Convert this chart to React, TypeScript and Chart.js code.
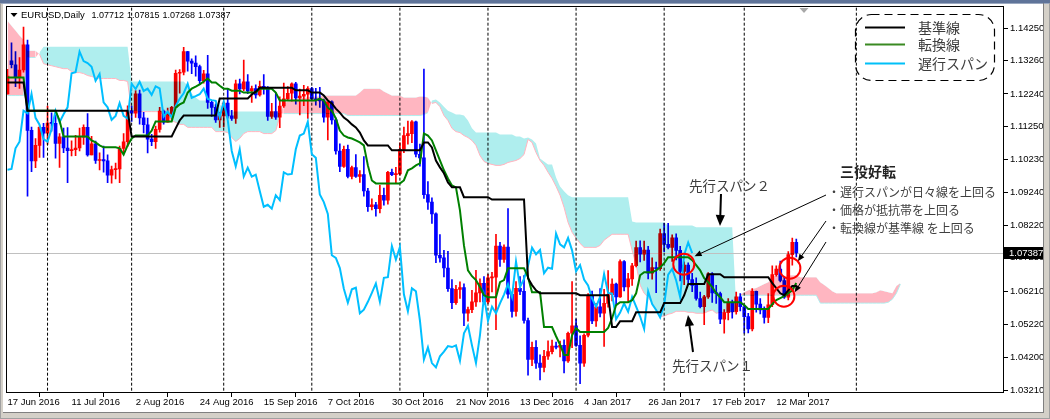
import { useEffect, useRef } from 'react';
import { Chart, registerables } from 'chart.js';

Chart.register(...registerables);

// ---------------- data (EURUSD Daily, 17 Jun 2016 .. 17 Mar 2017) ----------------
const opens = [
  1.1224,1.1325,1.1313,1.1274,1.1297,1.1374,1.1113,1.1020,1.1067,1.1122,
  1.1104,1.1135,1.1134,1.1073,1.1093,1.1059,1.1051,1.1054,1.1059,1.1092,
  1.1122,1.1038,1.1072,1.1021,1.1024,1.1020,1.0976,1.0993,1.0995,1.1058,
  1.1078,1.1173,1.1165,1.1224,1.1151,1.1130,1.1086,1.1078,1.1116,1.1172,
  1.1138,1.1162,1.1183,1.1287,1.1290,1.1353,1.1324,1.1318,1.1307,1.1264,
  1.1285,1.1198,1.1183,1.1145,1.1157,1.1196,1.1157,1.1149,1.1255,1.1239,
  1.1261,1.1233,1.1240,1.1221,1.1247,1.1241,1.1155,1.1170,1.1153,1.1187,
  1.1209,1.1226,1.1255,1.1212,1.1217,1.1223,1.1240,1.1209,1.1205,1.1203,
  1.1153,1.1200,1.1145,1.1050,1.1003,1.1055,1.0972,1.0999,1.0972,1.0978,
  1.0928,1.0880,1.0886,1.0874,1.0915,1.0900,1.0985,1.0978,1.0980,1.1055,
  1.1097,1.1103,1.1139,1.1040,1.1029,1.0917,1.0894,1.0858,1.0732,1.0724,
  1.0693,1.0630,1.0587,1.0628,1.0633,1.0555,1.0566,1.0590,1.0617,1.0646,
  1.0590,1.0663,1.0665,1.0760,1.0719,1.0757,1.0613,1.0561,1.0631,1.0622,
  1.0533,1.0414,1.0451,1.0403,1.0390,1.0424,1.0438,1.0455,1.0452,1.0457,
  1.0410,1.0494,1.0517,1.0457,1.0403,1.0488,1.0607,1.0532,1.0575,1.0555,
  1.0585,1.0612,1.0644,1.0605,1.0713,1.0635,1.0660,1.0700,1.0755,1.0735,
  1.0748,1.0677,1.0694,1.0691,1.0798,1.0765,1.0756,1.0785,1.0747,1.0683,
  1.0702,1.0658,1.0640,1.0600,1.0575,1.0605,1.0675,1.0617,1.0615,1.0537,
  1.0557,1.0585,1.0560,1.0605,1.0575,1.0545,1.0507,1.0622,1.0583,1.0565,
  1.0542,1.0581,1.0673,1.0690,1.0655,1.0604,1.0734,1.07712,
];
const highs = [
  1.1299,1.1380,1.1353,1.1335,1.1428,1.1388,1.1123,1.1088,1.1126,1.1134,
  1.1187,1.1166,1.1160,1.1103,1.1120,1.1121,1.1081,1.1098,1.1120,1.1130,
  1.1164,1.1095,1.1080,1.1044,1.1065,1.1038,1.1004,1.1013,1.1065,1.1103,
  1.1188,1.1187,1.1234,1.1236,1.1168,1.1150,1.1101,1.1126,1.1183,1.1175,
  1.1181,1.1186,1.1297,1.1298,1.1366,1.1354,1.1331,1.1340,1.1312,1.1296,
  1.1342,1.1201,1.1194,1.1168,1.1200,1.1240,1.1174,1.1266,1.1269,1.1327,
  1.1283,1.1248,1.1252,1.1263,1.1283,1.1246,1.1195,1.1227,1.1215,1.1257,
  1.1246,1.1258,1.1259,1.1239,1.1250,1.1246,1.1244,1.1241,1.1244,1.1208,
  1.1198,1.1203,1.1150,1.1072,1.1065,1.1068,1.1004,1.1039,1.0990,1.1033,
  1.0936,1.0904,1.0893,1.0945,1.0937,1.0988,1.0995,1.1000,1.1075,1.1123,
  1.1141,1.1143,1.1141,1.1071,1.1300,1.0957,1.0907,1.0861,1.0795,1.0747,
  1.0744,1.0658,1.0640,1.0651,1.0645,1.0574,1.0625,1.0686,1.0660,1.0667,
  1.0674,1.0680,1.0796,1.0771,1.0764,1.0874,1.0617,1.0652,1.0667,1.0670,
  1.0540,1.0467,1.0472,1.0428,1.0442,1.0471,1.0473,1.0467,1.0470,1.0474,
  1.0498,1.0652,1.0537,1.0486,1.0492,1.0615,1.0623,1.0585,1.0630,1.0628,
  1.0685,1.0660,1.0647,1.0718,1.0716,1.0677,1.0707,1.0775,1.0776,1.0775,
  1.0759,1.0724,1.0711,1.0812,1.0829,1.0829,1.0794,1.0797,1.0759,1.0712,
  1.0709,1.0677,1.0663,1.0620,1.0610,1.0679,1.0679,1.0640,1.0620,1.0566,
  1.0600,1.0595,1.0620,1.0615,1.0580,1.0555,1.0630,1.0623,1.0600,1.0575,
  1.0615,1.0700,1.0700,1.0714,1.0666,1.0743,1.0784,1.07815,
];
const lows = [
  1.1223,1.1303,1.1246,1.1241,1.1290,1.0912,1.0987,1.0999,1.1030,1.1030,
  1.1070,1.1110,1.1028,1.1000,1.1045,1.0953,1.1035,1.1036,1.1050,1.1070,
  1.1034,1.1038,1.1012,1.0992,1.0985,1.0953,1.0952,1.0965,1.0953,1.1045,
  1.1064,1.1140,1.1152,1.1132,1.1105,1.1044,1.1066,1.1058,1.1107,1.1132,
  1.1138,1.1147,1.1183,1.1226,1.1282,1.1293,1.1286,1.1278,1.1253,1.1257,
  1.1180,1.1155,1.1137,1.1122,1.1123,1.1150,1.1143,1.1134,1.1224,1.1234,
  1.1225,1.1198,1.1211,1.1217,1.1223,1.1143,1.1149,1.1146,1.1121,1.1183,
  1.1206,1.1202,1.1193,1.1160,1.1188,1.1149,1.1203,1.1190,1.1183,1.1138,
  1.1084,1.1132,1.1040,1.0987,1.1000,1.0968,1.0965,1.0969,1.0954,1.0912,
  1.0866,1.0870,1.0851,1.0861,1.0885,1.0888,1.0975,1.0951,1.0976,1.1045,
  1.1071,1.1075,1.1032,1.1004,1.0905,1.0872,1.0829,1.0709,1.0711,1.0666,
  1.0622,1.0569,1.0582,1.0600,1.0517,1.0531,1.0557,1.0576,1.0590,1.0583,
  1.0585,1.0620,1.0505,1.0698,1.0710,1.0601,1.0543,1.0546,1.0612,1.0525,
  1.0366,1.0395,1.0387,1.0352,1.0376,1.0414,1.0431,1.0446,1.0422,1.0373,
  1.0405,1.0450,1.0454,1.0340,1.0393,1.0483,1.0523,1.0515,1.0544,1.0454,
  1.0574,1.0593,1.0580,1.0603,1.0623,1.0588,1.0640,1.0696,1.0712,1.0716,
  1.0660,1.0659,1.0618,1.0686,1.0743,1.0751,1.0713,1.0718,1.0654,1.0642,
  1.0648,1.0621,1.0595,1.0571,1.0520,1.0600,1.0588,1.0585,1.0523,1.0494,
  1.0535,1.0540,1.0552,1.0562,1.0494,1.0495,1.0501,1.0558,1.0553,1.0525,
  1.0526,1.0575,1.0668,1.0651,1.0600,1.0596,1.0702,1.07268,
];
const closes = [
  1.1278,1.1313,1.1274,1.1297,1.1374,1.1113,1.1020,1.1067,1.1122,1.1104,
  1.1135,1.1134,1.1073,1.1093,1.1059,1.1051,1.1054,1.1059,1.1092,1.1122,
  1.1038,1.1072,1.1021,1.1024,1.1020,1.0976,1.0993,1.0995,1.1058,1.1078,
  1.1173,1.1165,1.1224,1.1151,1.1130,1.1086,1.1078,1.1116,1.1172,1.1138,
  1.1162,1.1183,1.1287,1.1290,1.1353,1.1324,1.1318,1.1307,1.1264,1.1285,
  1.1198,1.1183,1.1145,1.1157,1.1196,1.1157,1.1149,1.1255,1.1239,1.1261,
  1.1233,1.1240,1.1221,1.1247,1.1241,1.1155,1.1170,1.1153,1.1187,1.1209,
  1.1226,1.1255,1.1212,1.1217,1.1223,1.1240,1.1209,1.1205,1.1203,1.1153,
  1.1200,1.1145,1.1050,1.1003,1.1055,1.0972,1.0999,1.0972,1.0978,1.0928,
  1.0880,1.0886,1.0874,1.0915,1.0900,1.0985,1.0978,1.0980,1.1055,1.1097,
  1.1103,1.1139,1.1040,1.1029,1.0917,1.0894,1.0858,1.0732,1.0724,1.0693,
  1.0630,1.0587,1.0628,1.0633,1.0555,1.0566,1.0590,1.0617,1.0646,1.0590,
  1.0663,1.0665,1.0760,1.0719,1.0757,1.0613,1.0561,1.0631,1.0622,1.0533,
  1.0414,1.0451,1.0403,1.0390,1.0424,1.0438,1.0455,1.0452,1.0457,1.0410,
  1.0494,1.0517,1.0457,1.0403,1.0488,1.0607,1.0532,1.0575,1.0555,1.0585,
  1.0612,1.0644,1.0605,1.0713,1.0635,1.0660,1.0700,1.0755,1.0735,1.0748,
  1.0677,1.0694,1.0691,1.0798,1.0765,1.0756,1.0785,1.0747,1.0683,1.0702,
  1.0658,1.0640,1.0600,1.0575,1.0605,1.0675,1.0617,1.0615,1.0537,1.0557,
  1.0585,1.0560,1.0605,1.0575,1.0545,1.0507,1.0622,1.0583,1.0565,1.0542,
  1.0581,1.0673,1.0690,1.0655,1.0604,1.0734,1.0771,1.07387,
];
// 転換線 (Tenkan-sen)
const tenkan = [
  1.1274,1.1274,1.1274,1.1274,1.1274,1.1173,1.1173,1.1173,1.1173,1.1173,
  1.1173,1.1173,1.1173,1.1143,1.1094,1.1094,1.1094,1.1094,1.1094,1.1094,
  1.1094,1.1082,1.1076,1.1067,1.1061,1.1061,1.1061,1.1061,1.1058,1.1039,
  1.1067,1.1088,1.1097,1.1097,1.1097,1.1097,1.1112,1.1140,1.1140,1.1140,
  1.1140,1.1140,1.1182,1.1192,1.1198,1.1228,1.1240,1.1246,1.1253,1.1262,
  1.1271,1.1259,1.1259,1.1249,1.1240,1.1240,1.1234,1.1234,1.1234,1.1228,
  1.1228,1.1228,1.1228,1.1240,1.1240,1.1240,1.1240,1.1228,1.1204,1.1204,
  1.1204,1.1204,1.1204,1.1204,1.1204,1.1204,1.1204,1.1204,1.1210,1.1204,
  1.1182,1.1173,1.1149,1.1112,1.1097,1.1091,1.1088,1.1082,1.1076,1.1067,
  1.1006,1.0960,1.0951,1.0951,1.0951,1.0951,1.0951,1.0951,1.0951,1.0960,
  1.0991,1.0997,1.1006,1.1012,1.1103,1.1097,1.1082,1.1052,1.1021,1.0991,
  1.0966,1.0945,1.0939,1.0869,1.0762,1.0686,1.0668,1.0656,1.0635,1.0610,
  1.0604,1.0604,1.0604,1.0650,1.0656,1.0692,1.0692,1.0692,1.0692,1.0692,
  1.0665,1.0619,1.0619,1.0619,1.0513,1.0513,1.0513,1.0485,1.0459,1.0428,
  1.0428,1.0488,1.0510,1.0498,1.0498,1.0498,1.0498,1.0498,1.0498,1.0498,
  1.0510,1.0540,1.0580,1.0589,1.0589,1.0589,1.0595,1.0616,1.0671,1.0680,
  1.0680,1.0680,1.0686,1.0695,1.0708,1.0726,1.0726,1.0726,1.0726,1.0726,
  1.0726,1.0717,1.0702,1.0686,1.0662,1.0650,1.0635,1.0616,1.0604,1.0589,
  1.0589,1.0589,1.0589,1.0589,1.0580,1.0568,1.0568,1.0568,1.0568,1.0568,
  1.0568,1.0583,1.0595,1.0601,1.0607,1.0616,1.0625,1.0647,
];
// 基準線 (Kijun-sen)
const kijun = [
  1.1259,1.1259,1.1259,1.1259,1.1259,1.1173,1.1173,1.1173,1.1173,1.1173,
  1.1173,1.1173,1.1173,1.1173,1.1173,1.1173,1.1173,1.1173,1.1173,1.1173,
  1.1173,1.1173,1.1173,1.1173,1.1173,1.1173,1.1173,1.1173,1.1173,1.1173,
  1.1173,1.1094,1.1094,1.1094,1.1094,1.1094,1.1094,1.1094,1.1094,1.1094,
  1.1094,1.1094,1.1119,1.1143,1.1158,1.1158,1.1158,1.1158,1.1158,1.1158,
  1.1158,1.1158,1.1158,1.1210,1.1210,1.1210,1.1210,1.1210,1.1210,1.1210,
  1.1210,1.1222,1.1231,1.1243,1.1243,1.1243,1.1243,1.1243,1.1243,1.1243,
  1.1243,1.1243,1.1235,1.1235,1.1235,1.1235,1.1228,1.1228,1.1228,1.1219,
  1.1204,1.1195,1.1179,1.1167,1.1152,1.1143,1.1131,1.1122,1.1106,1.1082,
  1.1067,1.1067,1.1067,1.1067,1.1067,1.1067,1.1052,1.1052,1.1052,1.1052,
  1.1052,1.1052,1.1052,1.1052,1.1076,1.1076,1.1061,1.1021,1.1000,1.0982,
  1.0954,1.0939,1.0939,1.0939,1.0909,1.0909,1.0909,1.0909,1.0909,1.0909,
  1.0909,1.0902,1.0902,1.0902,1.0902,1.0902,1.0902,1.0902,1.0902,1.0902,
  1.0662,1.0641,1.0625,1.0616,1.0616,1.0616,1.0616,1.0616,1.0616,1.0616,
  1.0616,1.0616,1.0616,1.0610,1.0610,1.0610,1.0610,1.0610,1.0610,1.0610,
  1.0610,1.0513,1.0513,1.0531,1.0531,1.0531,1.0531,1.0558,1.0558,1.0558,
  1.0558,1.0558,1.0558,1.0558,1.0586,1.0586,1.0586,1.0586,1.0586,1.0610,
  1.0644,1.0644,1.0644,1.0644,1.0644,1.0674,1.0674,1.0674,1.0674,1.0665,
  1.0665,1.0665,1.0665,1.0665,1.0665,1.0665,1.0665,1.0665,1.0665,1.0665,
  1.0665,1.0647,1.0632,1.0616,1.0610,1.0625,1.0638,1.0638,
];
// 先行スパン1 (Senkou Span A), already shifted 26 bars forward
const spanA = [
  1.1447,1.1432,1.1417,1.1402,1.1389,1.1356,1.1356,1.1356,1.1345,1.1316,
  1.1313,1.1310,1.1307,1.1304,1.1301,1.1301,1.1292,1.1289,1.1289,1.1286,
  1.1280,1.1277,1.1274,1.1271,1.1271,1.1271,1.1271,1.1271,1.1265,1.1265,
  1.1262,1.1170,1.1170,1.1170,1.1170,1.1170,1.1170,1.1170,1.1170,1.1158,
  1.1158,1.1143,1.1137,1.1131,1.1131,1.1122,1.1122,1.1122,1.1122,1.1122,
  1.1122,1.1122,1.1109,1.1109,1.1109,1.1106,1.1091,1.1079,1.1088,1.1103,
  1.1109,1.1109,1.1109,1.1109,1.1103,1.1103,1.1103,1.1112,1.1155,1.1195,
  1.1201,1.1204,1.1210,1.1210,1.1213,1.1213,1.1216,1.1216,1.1216,1.1219,
  1.1219,1.1219,1.1219,1.1219,1.1219,1.1219,1.1219,1.1219,1.1228,1.1240,
  1.1240,1.1240,1.1240,1.1240,1.1231,1.1225,1.1219,1.1219,1.1219,1.1213,
  1.1213,1.1213,1.1213,1.1216,1.1216,1.1213,1.1195,1.1198,1.1185,1.1158,
  1.1143,1.1119,1.1109,1.1106,1.1097,1.1091,1.1082,1.1067,1.1036,1.1018,
  1.1012,1.1009,1.1006,1.1006,1.1009,1.1015,1.1018,1.1021,1.1027,1.1039,
  1.1085,1.1076,1.1045,1.1021,1.1006,1.0985,1.0966,1.0942,1.0915,1.0878,
  1.0832,1.0802,1.0784,1.0768,1.0756,1.0756,1.0756,1.0756,1.0762,1.0778,
  1.0787,1.0796,1.0796,1.0796,1.0796,1.0796,1.0747,1.0702,1.0641,1.0616,
  1.0604,1.0586,1.0565,1.0546,1.0546,1.0552,1.0555,1.0561,1.0561,1.0561,
  1.0558,1.0558,1.0555,1.0555,1.0555,1.0561,1.0565,1.0555,1.0558,1.0558,
  1.0558,1.0558,1.0560,1.0612,1.0619,1.0625,1.0629,1.0632,1.0638,1.0644,
  1.0650,1.0665,1.0671,1.0671,1.0665,1.0671,1.0671,1.0671,1.0665,1.0665,
  1.0665,1.0665,1.0665,1.0650,1.0641,1.0632,1.0622,1.0616,1.0616,1.0616,
  1.0616,1.0616,1.0616,1.0616,1.0616,1.0616,1.0616,1.0619,1.0625,1.0622,
  1.0619,1.0616,1.0638,1.0647,
];
// 先行スパン2 (Senkou Span B), already shifted 26 bars forward
const spanB = [
  1.1219,1.1219,1.1219,1.1219,1.1219,1.1335,1.1335,1.1335,1.1350,1.1368,
  1.1368,1.1368,1.1368,1.1368,1.1368,1.1368,1.1368,1.1368,1.1368,1.1368,
  1.1368,1.1368,1.1368,1.1368,1.1368,1.1368,1.1368,1.1368,1.1368,1.1368,
  1.1368,1.1262,1.1262,1.1262,1.1262,1.1262,1.1262,1.1262,1.1262,1.1262,
  1.1262,1.1262,1.1262,1.1262,1.1262,1.1249,1.1225,1.1213,1.1204,1.1204,
  1.1204,1.1192,1.1192,1.1192,1.1179,1.1179,1.1170,1.1170,1.1170,1.1170,
  1.1170,1.1170,1.1170,1.1170,1.1170,1.1170,1.1170,1.1170,1.1164,1.1164,
  1.1164,1.1164,1.1164,1.1164,1.1164,1.1164,1.1164,1.1164,1.1164,1.1164,
  1.1164,1.1164,1.1164,1.1164,1.1164,1.1158,1.1158,1.1158,1.1158,1.1158,
  1.1158,1.1158,1.1158,1.1158,1.1158,1.1158,1.1158,1.1158,1.1158,1.1158,
  1.1158,1.1158,1.1158,1.1158,1.1161,1.1167,1.1204,1.1207,1.1198,1.1185,
  1.1173,1.1167,1.1161,1.1161,1.1158,1.1143,1.1119,1.1106,1.1106,1.1106,
  1.1106,1.1106,1.1106,1.1100,1.1100,1.1100,1.1100,1.1094,1.1094,1.1088,
  1.1091,1.1085,1.1073,1.1027,1.1018,1.1009,1.1009,1.0969,1.0942,1.0927,
  1.0915,1.0909,1.0909,1.0909,1.0909,1.0909,1.0909,1.0909,1.0909,1.0909,
  1.0909,1.0909,1.0909,1.0909,1.0909,1.0909,1.0835,1.0832,1.0832,1.0832,
  1.0832,1.0832,1.0832,1.0832,1.0832,1.0823,1.0823,1.0823,1.0823,1.0823,
  1.0823,1.0823,1.0817,1.0817,1.0817,1.0817,1.0817,1.0817,1.0817,1.0817,
  1.0817,1.0817,1.0575,1.0608,1.0610,1.0610,1.0610,1.0610,1.0610,1.0610,
  1.0610,1.0610,1.0610,1.0610,1.0610,1.0610,1.0610,1.0610,1.0610,1.0610,
  1.0610,1.0610,1.0610,1.0586,1.0586,1.0586,1.0586,1.0586,1.0586,1.0586,
  1.0586,1.0586,1.0586,1.0586,1.0586,1.0586,1.0586,1.0586,1.0586,1.0586,
  1.0589,1.0598,1.0616,1.0644,
];
const CHIKOU_SHIFT = 26; // 遅行スパン = close plotted 26 bars back

const dateTickBars = [0, 16, 32, 48, 64, 80, 96, 112, 128, 144, 160, 176, 192];
const dateTickLabels = [
  '17 Jun 2016', '11 Jul 2016', '2 Aug 2016', '24 Aug 2016', '15 Sep 2016', '7 Oct 2016',
  '30 Oct 2016', '21 Nov 2016', '13 Dec 2016', '4 Jan 2017', '26 Jan 2017', '17 Feb 2017', '12 Mar 2017',
];
const priceTicks = [1.0321, 1.042, 1.0522, 1.0621, 1.0725, 1.0822, 1.0924, 1.1023, 1.1125, 1.1224, 1.1326, 1.1425];
const monthSeparatorBars = [10, 31, 54, 76, 98, 120, 142, 164, 184, 212];

const legendItems = [
  { label: '基準線', color: '#000000' },
  { label: '転換線', color: '#3a8a22' },
  { label: '遅行スパン', color: '#00c0f8' },
];
const bulletLines = ['遅行スパンが日々線を上回る', '価格が抵抗帯を上回る', '転換線が基準線 を上回る'];

// ---------------- styling ----------------
const PINK = '#ffb6c1';
const CYAN = '#afeeee';
const BULL = '#ff0000';
const BEAR = '#0000ff';
const X_MIN = -0.125;
const X_MAX = 248.875;
const Y_MIN = 1.031187;
const Y_MAX = 1.148691;
const LATIN = "'Liberation Sans', Arial, sans-serif";
const CJK = "'Noto Sans CJK JP', 'Noto Sans', sans-serif";

function drawArrow(ctx: CanvasRenderingContext2D, x1: number, y1: number, x2: number, y2: number, lw: number, head: number) {
  const a = Math.atan2(y2 - y1, x2 - x1);
  const c = Math.cos(a);
  const s = Math.sin(a);
  ctx.lineWidth = lw;
  ctx.beginPath();
  ctx.moveTo(x1, y1);
  ctx.lineTo(x2 - c * head * 0.7, y2 - s * head * 0.7);
  ctx.stroke();
  const w = head * 0.42;
  ctx.beginPath();
  ctx.moveTo(x2, y2);
  ctx.lineTo(x2 - head * c + w * s, y2 - head * s - w * c);
  ctx.lineTo(x2 - head * c - w * s, y2 - head * s + w * c);
  ctx.closePath();
  ctx.fill();
}

function roundRectPath(ctx: CanvasRenderingContext2D, x: number, y: number, w: number, h: number, r: number) {
  ctx.beginPath();
  ctx.moveTo(x + r, y);
  ctx.lineTo(x + w - r, y);
  ctx.arcTo(x + w, y, x + w, y + r, r);
  ctx.lineTo(x + w, y + h - r);
  ctx.arcTo(x + w, y + h, x + w - r, y + h, r);
  ctx.lineTo(x + r, y + h);
  ctx.arcTo(x, y + h, x, y + h - r, r);
  ctx.lineTo(x, y + r);
  ctx.arcTo(x, y, x + r, y, r);
  ctx.closePath();
}

const mt4Plugin = {
  id: 'mt4',
  beforeDraw(chart: any) {
    const { ctx, width, height } = chart;
    ctx.save();
    ctx.fillStyle = '#d4d0c8';
    ctx.fillRect(0, 0, width, height);
    ctx.fillStyle = '#ffffff';
    ctx.fillRect(3, 3, 1040, 409);
    ctx.fillStyle = '#5f7499';
    ctx.fillRect(0, 0, width, 3);
    ctx.fillStyle = '#9aa8c0';
    ctx.fillRect(0, 3, width, 1);
    ctx.fillStyle = '#a0a0a0';
    ctx.fillRect(0, 3, 1, height - 3);
    ctx.fillRect(width - 1, 3, 1, height - 3);
    ctx.fillRect(0, height - 1, width, 1);
    ctx.fillStyle = '#808080';
    ctx.fillRect(1043, 3, 1, 409);
    ctx.fillRect(3, 412, 1041, 1);
    ctx.restore();
  },
  beforeDatasetDraw(chart: any, args: any) {
    const ds = chart.data.datasets[args.index];
    const ctx = chart.ctx;
    if (ds.label === 'wicks') {
      const xs = chart.scales.x;
      const ys = chart.scales.y;
      const { top, bottom, left, right } = chart.chartArea;
      ctx.save();
      // bid line
      const by = Math.round(ys.getPixelForValue(closes[closes.length - 1])) + 0.5;
      ctx.strokeStyle = '#c0c0c0';
      ctx.lineWidth = 1;
      ctx.beginPath();
      ctx.moveTo(left, by);
      ctx.lineTo(right, by);
      ctx.stroke();
      // month separators
      ctx.strokeStyle = '#000000';
      ctx.setLineDash([3, 2]);
      for (const b of monthSeparatorBars) {
        const x = xs.getPixelForValue(b);
        ctx.beginPath();
        ctx.moveTo(x, top);
        ctx.lineTo(x, bottom);
        ctx.stroke();
      }
      ctx.restore();
    }
    if (ds.label === 'wicks' || ds.label === 'bodies') {
      ctx.globalCompositeOperation = 'multiply';
    }
  },
  afterDatasetDraw(chart: any) {
    chart.ctx.globalCompositeOperation = 'source-over';
  },
  afterDraw(chart: any) {
    const { ctx } = chart;
    const xs = chart.scales.x;
    const ys = chart.scales.y;
    ctx.save();
    // chart frame
    ctx.strokeStyle = '#000000';
    ctx.lineWidth = 1;
    ctx.strokeRect(6.5, 6.5, 997, 386);

    // current price label
    const last = closes.length - 1;
    const py = ys.getPixelForValue(closes[last]);
    ctx.fillStyle = '#000000';
    ctx.fillRect(1004, Math.round(py) - 6, 39, 12);
    ctx.fillStyle = '#ffffff';
    ctx.font = `9.5px ${LATIN}`;
    ctx.textBaseline = 'middle';
    ctx.textAlign = 'left';
    ctx.fillText(closes[last].toFixed(5), 1009, Math.round(py) + 0.5);

    // header
    ctx.fillStyle = '#000000';
    ctx.beginPath();
    ctx.moveTo(10.5, 13);
    ctx.lineTo(17.5, 13);
    ctx.lineTo(14, 17);
    ctx.closePath();
    ctx.fill();
    ctx.font = `9.5px ${LATIN}`;
    ctx.fillText('EURUSD,Daily', 21, 15.5);
    ctx.font = `9px ${LATIN}`;
    const ohlc = [opens[last], highs[last], lows[last], closes[last]];
    const hx = [91.5, 127, 162.5, 198];
    ohlc.forEach((v, i) => ctx.fillText(v.toFixed(5), hx[i], 15.5));

    // chart shift marker
    ctx.fillStyle = '#a8a8a8';
    ctx.beginPath();
    ctx.moveTo(799.5, 8);
    ctx.lineTo(808.5, 8);
    ctx.lineTo(804, 13);
    ctx.closePath();
    ctx.fill();

    // legend box
    ctx.strokeStyle = '#000000';
    ctx.lineWidth = 1.2;
    ctx.setLineDash([8, 5]);
    roundRectPath(ctx, 855.5, 14.5, 139, 66, 16);
    ctx.stroke();
    ctx.setLineDash([]);
    const ly = [27.5, 44.5, 63.5];
    legendItems.forEach((it, i) => {
      ctx.strokeStyle = it.color;
      ctx.lineWidth = 2;
      ctx.beginPath();
      ctx.moveTo(865, ly[i]);
      ctx.lineTo(905, ly[i]);
      ctx.stroke();
      ctx.fillStyle = '#3c3c3c';
      ctx.font = `14px ${CJK}`;
      ctx.fillText(it.label, 918, ly[i] + 0.5);
    });

    // labels for the cloud spans
    ctx.fillStyle = '#3c3c3c';
    ctx.font = `13.5px ${CJK}`;
    ctx.fillText('先行スパン２', 689, 186);
    ctx.fillText('先行スパン１', 672, 366);
    ctx.fillStyle = '#000000';
    ctx.strokeStyle = '#000000';
    drawArrow(ctx, 721, 194, 720, 226, 2, 11);
    drawArrow(ctx, 693, 352, 688, 315, 2, 11);

    // 三役好転 block
    ctx.fillStyle = '#222222';
    ctx.font = `bold 14px ${CJK}`;
    ctx.fillText('三役好転', 840, 172);
    ctx.fillStyle = '#404040';
    ctx.font = `12px ${CJK}`;
    const by = [192, 210, 228];
    bulletLines.forEach((t, i) => {
      ctx.fillText('・', 828, by[i]);
      ctx.fillText(t, 840, by[i]);
    });

    // pointer arrows (targets anchored in data coordinates)
    const targets = [
      [171.6, 1.0729],
      [197.4, 1.07137],
      [196.6, 1.06193],
    ];
    const starts = [[826, 195], [826, 221], [826, 242]];
    ctx.fillStyle = '#000000';
    ctx.strokeStyle = '#000000';
    targets.forEach((t, i) => {
      drawArrow(ctx, starts[i][0], starts[i][1], xs.getPixelForValue(t[0]), ys.getPixelForValue(t[1]), 1, 7);
    });

    // red circles
    const circles = [
      [168.9, 1.07046],
      [195.4, 1.06924],
      [193.9, 1.06072],
    ];
    ctx.strokeStyle = '#ff0000';
    ctx.lineWidth = 2;
    circles.forEach((c) => {
      ctx.beginPath();
      ctx.arc(xs.getPixelForValue(c[0]), ys.getPixelForValue(c[1]), 10.5, 0, Math.PI * 2);
      ctx.stroke();
    });
    ctx.restore();
  },
};

export default function App() {
  const ref = useRef<HTMLCanvasElement>(null);

  useEffect(() => {
    const canvas = ref.current;
    if (!canvas) return;
    const pts = (arr: number[]) => arr.map((v, i) => ({ x: i, y: v }));
    const candleColors = closes.map((c, i) => (c >= opens[i] ? BULL : BEAR));
    const wickData = lows.map((l, i) => ({ x: i, y: [l, highs[i]] }));
    const bodyData = opens.map((o, i) => ({ x: i, y: [Math.min(o, closes[i]), Math.max(o, closes[i])] }));
    const chikouData = closes.slice(CHIKOU_SHIFT).map((v, j) => ({ x: j, y: v }));

    const chart = new Chart(canvas, {
      type: 'bar',
      data: {
        datasets: [
          {
            type: 'line',
            label: 'spanA',
            data: pts(spanA),
            order: 9,
            borderWidth: 1,
            pointRadius: 0,
            fill: false,
            borderColor: 'rgba(0,0,0,0)',
            segment: {
              borderColor: (c: any) =>
                spanA[c.p0DataIndex] < spanB[c.p0DataIndex] && spanA[c.p1DataIndex] < spanB[c.p1DataIndex]
                  ? PINK
                  : 'rgba(0,0,0,0)',
            },
          } as any,
          {
            type: 'line',
            label: 'spanB',
            data: pts(spanB),
            order: 10,
            borderWidth: 1,
            pointRadius: 0,
            borderColor: 'rgba(0,0,0,0)',
            fill: { target: 0, above: CYAN, below: PINK },
            segment: {
              borderColor: (c: any) =>
                spanB[c.p0DataIndex] < spanA[c.p0DataIndex] && spanB[c.p1DataIndex] < spanA[c.p1DataIndex]
                  ? CYAN
                  : 'rgba(0,0,0,0)',
            },
          } as any,
          {
            type: 'bar',
            label: 'wicks',
            data: wickData,
            backgroundColor: candleColors,
            barThickness: 1,
            grouped: false,
            order: 7,
          } as any,
          {
            type: 'bar',
            label: 'bodies',
            data: bodyData,
            backgroundColor: candleColors,
            barThickness: 3,
            grouped: false,
            minBarLength: 1,
            order: 6,
          } as any,
          {
            type: 'line',
            label: 'chikou',
            data: chikouData,
            borderColor: '#00bfff',
            borderWidth: 2,
            pointRadius: 0,
            fill: false,
            order: 3,
          } as any,
          {
            type: 'line',
            label: 'tenkan',
            data: pts(tenkan),
            borderColor: '#008000',
            borderWidth: 2,
            pointRadius: 0,
            fill: false,
            order: 2,
          } as any,
          {
            type: 'line',
            label: 'kijun',
            data: pts(kijun),
            borderColor: '#000000',
            borderWidth: 2,
            pointRadius: 0,
            fill: false,
            order: 1,
          } as any,
        ],
      },
      options: {
        animation: false,
        responsive: false,
        maintainAspectRatio: false,
        devicePixelRatio: 1,
        events: [],
        layout: { padding: { left: 7, top: 7, right: 7, bottom: 8 } },
        plugins: { legend: { display: false }, tooltip: { enabled: false } },
        scales: {
          x: {
            type: 'linear',
            min: X_MIN,
            max: X_MAX,
            offset: false,
            bounds: 'data',
            border: { display: false },
            grid: { display: true, drawOnChartArea: false, drawTicks: true, tickLength: 4, color: '#000000' },
            ticks: {
              color: '#000000',
              font: { family: LATIN, size: 9.5 },
              align: 'start',
              padding: 0,
              maxRotation: 0,
              autoSkip: false,
              callback: (_v: any, i: number) => dateTickLabels[i],
            },
            afterBuildTicks: (s: any) => {
              s.ticks = dateTickBars.map((v) => ({ value: v }));
            },
            afterFit: (s: any) => {
              s.height = 18;
            },
          },
          y: {
            type: 'linear',
            position: 'right',
            min: Y_MIN,
            max: Y_MAX,
            bounds: 'data',
            border: { display: false },
            grid: { display: true, drawOnChartArea: false, drawTicks: true, tickLength: 4, color: '#000000' },
            ticks: {
              color: '#000000',
              font: { family: LATIN, size: 9.5 },
              padding: 2,
              crossAlign: 'near',
              autoSkip: false,
              callback: (v: any) => Number(v).toFixed(5),
            },
            afterBuildTicks: (s: any) => {
              s.ticks = priceTicks.map((v) => ({ value: v }));
            },
            afterFit: (s: any) => {
              s.width = 39;
            },
          },
        },
      } as any,
      plugins: [mt4Plugin],
    });
    return () => chart.destroy();
  }, []);

  return (
    <div style={{ position: 'fixed', left: 0, top: 0, width: 1050, height: 419 }}>
      <canvas ref={ref} width={1050} height={419} style={{ display: 'block', width: 1050, height: 419 }} />
    </div>
  );
}
